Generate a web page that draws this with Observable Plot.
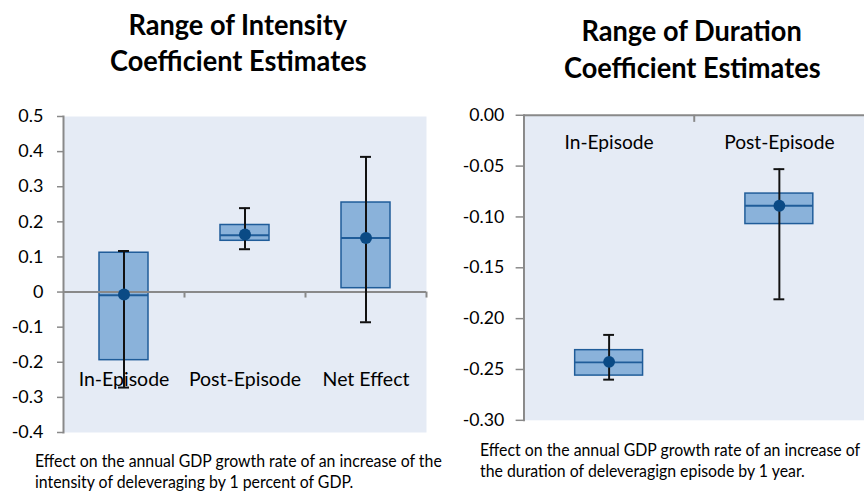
<!DOCTYPE html>
<html><head><meta charset="utf-8">
<script src="https://cdn.jsdelivr.net/npm/d3@7"></script>
<script src="https://cdn.jsdelivr.net/npm/@observablehq/plot@0.6"></script>
<style>
html,body{margin:0;padding:0;background:#fff;}
#page{position:relative;width:864px;height:491px;overflow:hidden;font-family:Lato,"Open Sans",sans-serif;color:#000;}
.title{position:absolute;width:420px;font-weight:bold;font-size:28px;line-height:36px;text-align:center;white-space:nowrap;}
.title span{display:inline-block;transform:scaleX(0.97);}
.caption{position:absolute;font-size:16.7px;line-height:21px;white-space:nowrap;transform-origin:0 0;transform:scaleX(0.95);}
.chart{position:absolute;}
</style></head>
<body><div id="page">
<div class="title" style="left:28px;top:6px"><span>Range of Intensity</span><br><span>Coefficient Estimates</span></div>
<div class="title" style="left:482px;top:12px;line-height:37px"><span>Range of Duration</span><br><span>Coefficient Estimates</span></div>
<div class="chart" id="left" style="left:0;top:100px"></div>
<div class="chart" id="right" style="left:430px;top:100px"></div>
<div class="caption" style="left:35px;top:451px">Effect on the annual GDP growth rate of an increase of the<br>intensity of deleveraging by 1 percent of GDP.</div>
<div class="caption" style="left:480px;top:440px">Effect on the annual GDP growth rate of an increase of<br>the duration of deleveragign episode by 1 year.</div>
</div>
<script>
// ---- Intensity chart data ----
const intensityCats  = ["In-Episode", "Post-Episode", "Net Effect"];
const intensityLow   = [-0.272, 0.122, -0.086];
const intensityQ1    = [-0.194, 0.146, 0.011];
const intensityMed   = [-0.009, 0.162, 0.154];
const intensityQ3    = [0.112, 0.191, 0.255];
const intensityHigh  = [0.117, 0.239, 0.385];
const intensityPoint = [-0.007, 0.164, 0.154];
const intensityTicks = [-0.4, -0.3, -0.2, -0.1, 0, 0.1, 0.2, 0.3, 0.4, 0.5];

// ---- Duration chart data ----
const durationCats  = ["In-Episode", "Post-Episode"];
const durationLow   = [-0.260, -0.181];
const durationQ1    = [-0.256, -0.107];
const durationMed   = [-0.243, -0.089];
const durationQ3    = [-0.231, -0.077];
const durationHigh  = [-0.216, -0.053];
const durationPoint = [-0.2425, -0.089];
const durationTicks = [0, -0.05, -0.10, -0.15, -0.20, -0.25, -0.30];

const BG = "#E5EBF5", BOX = "#8AB2DA", BOXS = "#1F5C99", DOT = "#0A4A85", AX = "#898989";

function build(o) {
  const rows = o.cats.map((c, i) => ({cat: c, low: o.low[i], q1: o.q1[i], med: o.med[i], q3: o.q3[i], high: o.high[i], pt: o.pt[i]}));
  const band = (o.width - o.ml - o.mr) / o.cats.length;
  const boxInset = (band - o.boxW) / 2;
  const capInset = (band - o.capW) / 2;
  return Plot.plot({
    width: o.width, height: o.height,
    marginLeft: o.ml, marginRight: o.mr, marginTop: o.mt, marginBottom: o.mb,
    style: {fontFamily: "Lato, 'Open Sans', sans-serif", color: "#000", background: "transparent", overflow: "visible"},
    x: {type: "band", domain: o.cats, padding: 0, axis: null},
    y: {domain: o.domain, axis: null},
    marks: [
      Plot.frame({fill: BG, stroke: "none"}),
      Plot.barY(rows, {x: "cat", y1: "q1", y2: "q3", fill: BOX, stroke: BOXS, strokeWidth: 1.5, insetLeft: boxInset, insetRight: boxInset}),
      Plot.tickY(rows, {x: "cat", y: "med", stroke: BOXS, strokeWidth: 2, insetLeft: boxInset, insetRight: boxInset}),
      Plot.ruleY([o.axisAt], {stroke: AX, strokeWidth: 2}),
      Plot.ruleX(o.cats.slice(0, o.cats.length - (o.lastTick ? 0 : 1)), {x: d => d, y1: o.axisAt, y2: o.axisAt + o.catTickLen, dx: band / 2, stroke: AX, strokeWidth: 2}),
      Plot.frame({anchor: "left", stroke: AX, strokeWidth: 2}),
      Plot.axisY({ticks: o.ticks, tickFormat: o.fmt, tickSize: o.tickSize, tickPadding: o.tickPad, fontSize: 18, stroke: AX, strokeWidth: 1.5, fill: "#000"}),
      Plot.ruleX(rows, {x: "cat", y1: "low", y2: "high", stroke: "#111", strokeWidth: 2}),
      Plot.tickY(rows, {x: "cat", y: "low", stroke: "#111", strokeWidth: 2, insetLeft: capInset, insetRight: capInset}),
      Plot.tickY(rows, {x: "cat", y: "high", stroke: "#111", strokeWidth: 2, insetLeft: capInset, insetRight: capInset}),
      Plot.dot(rows, {x: "cat", y: "pt", r: 6, fill: DOT}),
      Plot.text(rows, {x: "cat", text: "cat", frameAnchor: o.labelAnchor, lineAnchor: "middle", dy: o.labelDy, fontSize: 19.5, fill: "#000"})
    ]
  });
}

document.getElementById("left").append(build({
  cats: intensityCats, low: intensityLow, q1: intensityQ1, med: intensityMed, q3: intensityQ3, high: intensityHigh, pt: intensityPoint,
  ticks: intensityTicks, fmt: d => d === 0 ? "0" : d.toFixed(1),
  width: 440, height: 344, ml: 63, mr: 14, mt: 16, mb: 12, domain: [-0.4, 0.5],
  boxW: 49, capW: 11, tickSize: 6, tickPad: 14, axisAt: 0, catTickLen: -0.017, lastTick: true,
  labelAnchor: "bottom", labelDy: -53
}));

document.getElementById("right").append(build({
  cats: durationCats, low: durationLow, q1: durationQ1, med: durationMed, q3: durationQ3, high: durationHigh, pt: durationPoint,
  ticks: durationTicks, fmt: d => Math.abs(d).toFixed(2) === "0.00" ? "0.00" : d.toFixed(2),
  width: 441, height: 335, ml: 95, mr: 0, mt: 15, mb: 10, domain: [-0.30, 0],
  boxW: 69, capW: 11, tickSize: 8, tickPad: 12, axisAt: 0, catTickLen: -0.007, lastTick: false,
  labelAnchor: "top", labelDy: 28
}));
</script>
</body></html>
